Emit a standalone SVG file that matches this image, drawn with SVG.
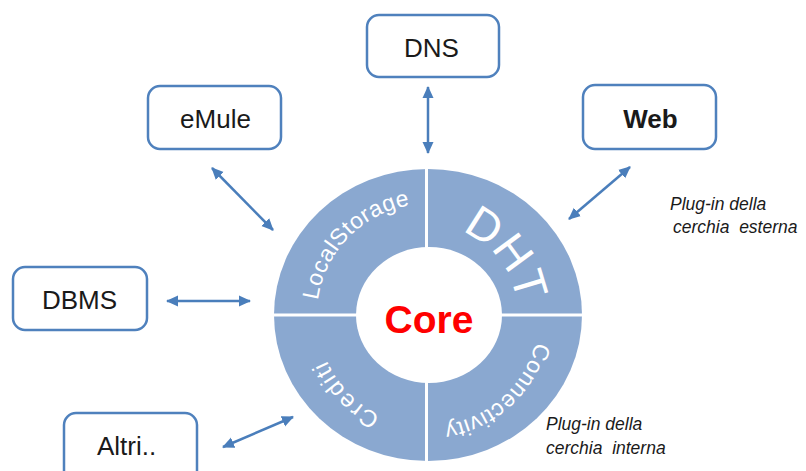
<svg xmlns="http://www.w3.org/2000/svg" width="806" height="471" viewBox="0 0 806 471">
  <style>
    .box { fill: #ffffff; stroke: #4F81BD; stroke-width: 2.5; }
    .lbl { font-family: "Liberation Sans", Arial, sans-serif; font-size: 26px; fill: #1a1a1a; text-anchor: middle; }
    .conn { stroke: #4A7EBB; stroke-width: 2.5; fill: none; marker-start: url(#ah); marker-end: url(#ah); }
    .ring { font-family: "Liberation Sans", Arial, sans-serif; fill: #ffffff; }
    .note { font-family: "Liberation Sans", Arial, sans-serif; font-size: 17.5px; font-style: italic; fill: #1a1a1a; }
  </style>
  <defs>
    <marker id="ah" markerUnits="userSpaceOnUse" markerWidth="12" markerHeight="12" viewBox="0 0 12 12" refX="11" refY="6" orient="auto-start-reverse">
      <path d="M0,0.5 L12,6 L0,11.5 Z" fill="#4A7EBB"/>
    </marker>
    <path id="pLS" d="M 317.0 316.0 A 111 111 0 0 1 426.0 204.0"/>
    <path id="pDHT" d="M 439.0 225.7 A 90 90 0 0 1 517.3 326.0"/>
    <path id="pCon" d="M 538.9 320.8 A 111 111 0 0 1 422.2 425.8"/>
    <path id="pCr" d="M 426.0 426.0 A 111 111 0 0 1 317.0 313.0"/>
  </defs>

  <g id="ring">
    <ellipse cx="428" cy="315" rx="154" ry="146" fill="#8AA8D0"/>
    <line x1="426.5" y1="165" x2="426.5" y2="465" stroke="#ffffff" stroke-width="3"/>
    <line x1="270" y1="315" x2="588" y2="315" stroke="#ffffff" stroke-width="3"/>
    <ellipse cx="429" cy="315" rx="73" ry="68" fill="#ffffff"/>
  </g>

  <g id="core">
    <text x="429" y="333" font-family="Liberation Sans, Arial, sans-serif" font-size="39" font-weight="bold" fill="#FF0000" text-anchor="middle">Core</text>
  </g>

  <g id="localstorage">
    <text class="ring" font-size="23" letter-spacing="0.5" text-anchor="middle"><textPath href="#pLS" startOffset="50%">LocalStorage</textPath></text>
  </g>
  <g id="dht">
    <text class="ring" font-size="46" text-anchor="middle"><textPath href="#pDHT" startOffset="50%">DHT</textPath></text>
  </g>
  <g id="connectivity">
    <text class="ring" font-size="23" letter-spacing="0.5" text-anchor="middle"><textPath href="#pCon" startOffset="50%">Connectivity</textPath></text>
  </g>
  <g id="crediti">
    <text class="ring" font-size="24" letter-spacing="1.5" text-anchor="middle"><textPath href="#pCr" startOffset="50%">Crediti</textPath></text>
  </g>

  <g id="dns">
    <rect class="box" x="367" y="15" width="132" height="62" rx="12"/>
    <text class="lbl" x="431.5" y="57">DNS</text>
  </g>
  <g id="emule">
    <rect class="box" x="148" y="86" width="133" height="63" rx="12"/>
    <text class="lbl" x="215.5" y="128">eMule</text>
  </g>
  <g id="web">
    <rect class="box" x="583" y="85" width="133" height="64" rx="12"/>
    <text class="lbl" x="650.5" y="128" font-size="33" font-weight="bold">Web</text>
  </g>
  <g id="dbms">
    <rect class="box" x="13" y="267" width="134" height="63" rx="12"/>
    <text class="lbl" x="79.5" y="309">DBMS</text>
  </g>
  <g id="altri">
    <rect class="box" x="64" y="413" width="133" height="80" rx="12"/>
    <text class="lbl" x="126.5" y="455">Altri..</text>
  </g>

  <g id="connectors">
    <line class="conn" x1="428" y1="87" x2="428" y2="153"/>
    <line class="conn" x1="212" y1="168" x2="273" y2="230"/>
    <line class="conn" x1="630" y1="167" x2="569" y2="219"/>
    <line class="conn" x1="167" y1="301" x2="250" y2="301"/>
    <line class="conn" x1="223" y1="447" x2="293" y2="417"/>
  </g>

  <g id="note-esterna">
    <text class="note" x="670" y="210">Plug-in della</text>
    <text class="note" x="673" y="233" xml:space="preserve">cerchia  esterna</text>
  </g>
  <g id="note-interna">
    <text class="note" x="546" y="430">Plug-in della</text>
    <text class="note" x="546" y="454" xml:space="preserve">cerchia  interna</text>
  </g>
</svg>
